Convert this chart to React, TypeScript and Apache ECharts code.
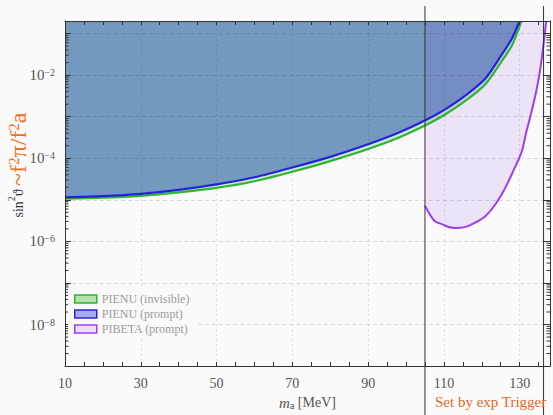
import React, { useEffect, useRef } from "react";
import * as echarts from "echarts";

const FONT = "'Liberation Serif', 'DejaVu Serif', serif";

// Axis ranges
const X_MIN = 10;
const X_MAX = 138;
const Y_MIN = 1e-9;
const Y_MAX = 0.2;
const X_LABELS = [10, 30, 50, 70, 90, 110, 130];
const Y_LABEL_EXPONENTS = [-2, -4, -6, -8];

// PIENU (invisible) exclusion boundary
const pienuInvisibleMass = [10, 20, 30, 40, 50, 60, 70, 80, 90, 98, 105, 110, 116, 121, 125, 128, 130.5];
const pienuInvisibleSin2 = [1.06e-5, 1.12e-5, 1.25e-5, 1.51e-5, 1.94e-5, 2.8e-5, 4.72e-5, 8.5e-5, 1.66e-4, 3.12e-4, 6.14e-4, 1.08e-3, 2.52e-3, 6.1e-3, 1.99e-2, 5.2e-2, 0.2];

// PIENU (prompt) exclusion boundary
const pienuPromptMass = [10, 20, 30, 40, 50, 60, 70, 80, 90, 98, 105, 110, 116, 121, 125, 128, 130];
const pienuPromptSin2 = [1.15e-5, 1.225e-5, 1.39e-5, 1.73e-5, 2.34e-5, 3.48e-5, 5.98e-5, 1.08e-4, 2.17e-4, 4.1e-4, 8.07e-4, 1.44e-3, 3.4e-3, 8.4e-3, 2.85e-2, 7.7e-2, 0.2];

// PIBETA (prompt) exclusion boundary
const pibetaMass = [105, 106.3, 107.7, 109.5, 111, 113, 115.5, 118, 121, 123.5, 126, 128, 130.5, 131.7, 133, 134.4, 135.5, 136.4, 137];
const pibetaSin2 = [7.2e-6, 4.4e-6, 3.0e-6, 2.6e-6, 2.24e-6, 2.1e-6, 2.2e-6, 2.75e-6, 4.1e-6, 7.6e-6, 1.8e-5, 4.3e-5, 1.4e-4, 4.1e-4, 1.17e-3, 4.2e-3, 1.53e-2, 6.6e-2, 0.2];

// Trigger window
const TRIGGER_LOW = 105;
const TRIGGER_HIGH = 136.3;

const L = Math.log10;
const toData = (xs: number[], ys: number[]) => xs.map((x, i) => [x, L(ys[i])]);

const minorTickData: number[][] = [];
for (let e = -9; e <= -1; e++) {
  for (let k = 2; k <= 9; k++) {
    const v = k * Math.pow(10, e);
    if (v < Y_MAX * 0.999 && v > Y_MIN) minorTickData.push([X_MIN, L(v)]);
  }
}

const labelColor = "#555";

export default function App() {
  const ref = useRef<HTMLDivElement>(null);
  useEffect(() => {
    if (!ref.current) return;
    const chart = echarts.init(ref.current, undefined, { renderer: "svg" });
    const axisLine = { show: true, onZero: false, lineStyle: { color: "#333", width: 1 } };
    const yLabelFmt = (val: number) => {
      const r = Math.round(val);
      if (Math.abs(val - r) > 1e-6 || !Y_LABEL_EXPONENTS.includes(r)) return "";
      return `{b|10}{s|−${-r}}`;
    };
    const option: any = {
      animation: false,
      backgroundColor: "#fafafa",
      grid: { left: 65, right: 1, top: 21, height: 347 },
      xAxis: [
        {
          type: "value", min: X_MIN, max: X_MAX, interval: 5, position: "bottom", z: 5,
          axisLine,
          axisTick: { inside: true, length: 4, lineStyle: { color: "#333" } },
          axisLabel: {
            margin: 10, color: labelColor, fontFamily: FONT, fontSize: 14,
            formatter: (v: number) => (X_LABELS.includes(v) ? String(v) : ""),
          },
          splitLine: { show: false },
          name: "{i|m}{sub|a} {n|[MeV]}",
          nameLocation: "middle",
          nameGap: 27,
          nameTextStyle: {
            color: labelColor, fontFamily: FONT, fontSize: 14,
            rich: {
              i: { fontStyle: "italic", fontSize: 15, color: labelColor, fontFamily: FONT },
              sub: { fontSize: 10, verticalAlign: "bottom", color: labelColor, fontFamily: FONT },
              n: { fontSize: 14, color: labelColor, fontFamily: FONT },
            },
          },
        },
        {
          type: "value", min: X_MIN, max: X_MAX, interval: 5, position: "top", z: 5,
          axisLine,
          axisTick: { inside: true, length: 4, lineStyle: { color: "#333" } },
          axisLabel: { show: false },
          splitLine: { show: false },
        },
      ],
      yAxis: [
        {
          type: "value", min: L(Y_MIN), max: L(Y_MAX), interval: 1, position: "left", z: 5,
          axisLine,
          axisTick: { inside: true, length: 6, lineStyle: { color: "#333" } },
          axisLabel: {
            margin: 10, color: labelColor, fontFamily: FONT, formatter: yLabelFmt,
            rich: {
              b: { fontSize: 15, color: labelColor, fontFamily: FONT },
              s: { fontSize: 10, color: labelColor, fontFamily: FONT, verticalAlign: "top" },
            },
          },
          splitLine: { show: true, lineStyle: { color: "rgba(0,0,0,0.13)", type: [4, 3], width: 1 } },
        },
        {
          type: "value", min: L(Y_MIN), max: L(Y_MAX), interval: 1, position: "right", z: 5,
          axisLine,
          axisTick: { inside: true, length: 6, lineStyle: { color: "#333" } },
          axisLabel: { show: false },
          splitLine: { show: false },
        },
      ],
      legend: {
        orient: "vertical", left: 68, top: 289, z: 10,
        backgroundColor: "#fafafa", padding: [4, 6, 4, 6],
        itemWidth: 22, itemHeight: 8, itemGap: 3,
        textStyle: { color: "#9a9a9a", fontFamily: FONT, fontSize: 12 },
        data: [
          { name: "PIENU (invisible)", icon: "rect", itemStyle: { color: "#b3e0ad", borderColor: "#2db52d", borderWidth: 1.5 } },
          { name: "PIENU (prompt)", icon: "rect", itemStyle: { color: "#a9ace8", borderColor: "#2525e0", borderWidth: 1.5 } },
          { name: "PIBETA (prompt)", icon: "rect", itemStyle: { color: "#ecdcf8", borderColor: "#9a40f0", borderWidth: 1.5 } },
        ],
      },
      series: [
        {
          name: "PIENU (invisible)", type: "line", silent: true,
          data: toData(pienuInvisibleMass, pienuInvisibleSin2),
          showSymbol: false, smooth: 0.25,
          lineStyle: { color: "#2fb52f", width: 2.2 },
          itemStyle: { color: "#2fb52f" },
          areaStyle: { origin: "end", color: "rgba(44,170,44,0.32)" },
          markLine: {
            silent: true, symbol: "none", label: { show: false },
            lineStyle: { type: [2, 3], color: "rgba(0,0,0,0.12)", width: 1 },
            data: X_LABELS.filter((v) => v > X_MIN).map((v) => ({ xAxis: v })),
          },
        },
        {
          name: "PIENU (prompt)", type: "line", silent: true,
          data: toData(pienuPromptMass, pienuPromptSin2),
          showSymbol: false, smooth: 0.25,
          lineStyle: { color: "#2222dd", width: 2.2 },
          itemStyle: { color: "#2222dd" },
          areaStyle: { origin: "end", color: "#7399bf", opacity: 1 },
        },
        {
          name: "PIBETA (prompt)", type: "line", silent: true,
          data: toData(pibetaMass, pibetaSin2),
          showSymbol: false, smooth: 0.25,
          lineStyle: { color: "#9a40f0", width: 2 },
          itemStyle: { color: "#9a40f0" },
          areaStyle: { origin: "end", color: "rgba(130,50,230,0.16)" },
        },
        {
          type: "custom", name: "minorTicks", silent: true, z: 6,
          data: minorTickData,
          encode: { x: 0, y: 1 },
          renderItem: (params: any, api: any) => {
            const v = api.value(1);
            const l = api.coord([X_MIN, v]);
            const r = api.coord([X_MAX, v]);
            return {
              type: "group",
              children: [
                { type: "line", shape: { x1: l[0], y1: l[1], x2: l[0] + 3.5, y2: l[1] }, style: { stroke: "#333", lineWidth: 1 } },
                { type: "line", shape: { x1: r[0] - 3.5, y1: r[1], x2: r[0], y2: r[1] }, style: { stroke: "#333", lineWidth: 1 } },
              ],
            };
          },
        },
      ],
    };
    chart.setOption(option);
    const xLo = chart.convertToPixel({ xAxisIndex: 0 }, TRIGGER_LOW) as number;
    const xHi = chart.convertToPixel({ xAxisIndex: 0 }, TRIGGER_HIGH) as number;
    chart.setOption({
      graphic: [
        { type: "line", z: 20, silent: true, shape: { x1: xLo, y1: 6, x2: xLo, y2: 415 }, style: { stroke: "#333", lineWidth: 1 } },
        { type: "line", z: 20, silent: true, shape: { x1: xHi, y1: 6, x2: xHi, y2: 415 }, style: { stroke: "#333", lineWidth: 1 } },
        {
          type: "text", z: 20, silent: true, x: xLo + 10, y: 402,
          style: { text: "Set by exp Trigger", fill: "#e06a1f", font: `15px ${FONT}`, align: "left", verticalAlign: "middle" },
        },
        {
          type: "text", z: 20, silent: true, x: 18, y: 165, rotation: Math.PI / 2,
          style: {
            text: "{k|sin}{ks|2}{k|ϑ} {o|~f}{os|2}{o|π/f}{os|2}{o|a}",
            align: "center", verticalAlign: "middle",
            rich: {
              k: { fontSize: 14, fill: "#333", fontFamily: FONT },
              ks: { fontSize: 10, fill: "#333", fontFamily: FONT, verticalAlign: "top" },
              o: { fontSize: 24, fill: "#f07020", fontFamily: FONT },
              os: { fontSize: 15, fill: "#f07020", fontFamily: FONT, verticalAlign: "top" },
            },
          },
        },
      ],
    });
    return () => chart.dispose();
  }, []);
  return <div ref={ref} style={{ position: "fixed", left: 0, top: 0, width: 553, height: 415 }} />;
}
